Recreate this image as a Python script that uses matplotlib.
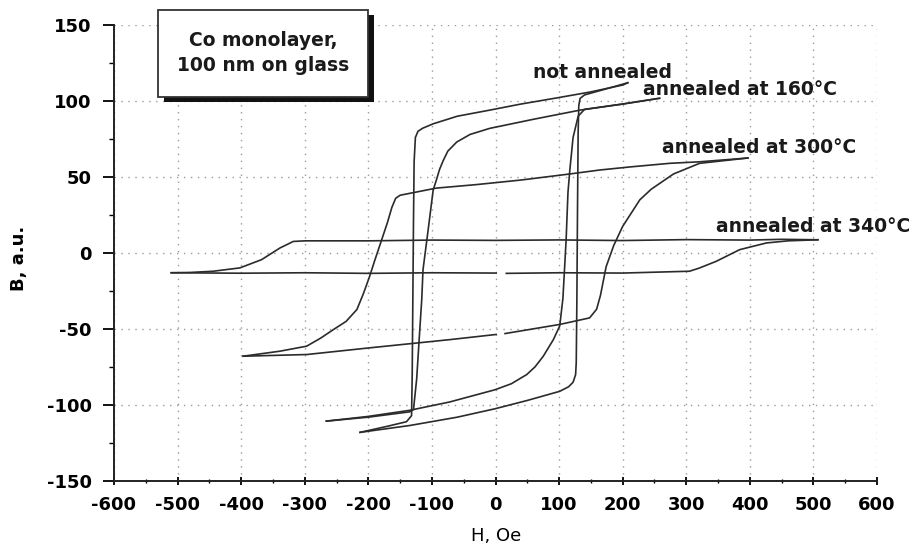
import numpy as np
import matplotlib
matplotlib.use("Agg")
import matplotlib.pyplot as plt
from matplotlib.patches import Rectangle
from matplotlib.ticker import MultipleLocator

nan = np.nan

# not annealed (square loop), field in Oe, B in a.u.
h_na_down = [208, 200, 150, 96, 40, -9, -60, -98, -115, -122, -126, -128, -129, -130, -131, -132, -140, -170, -213]
b_na_down = [112, 110.5, 106, 102, 98, 94, 90, 85, 82, 80, 76, 60, 20, -30, -80, -107, -111, -114, -118]
h_na_up = [-213, -135, -60, -1, 50, 101, 115, 122, 126, 127, 128, 129, 130, 131, 133, 140, 170, 208]
b_na_up = [-118, -113.5, -108, -102.5, -97, -91, -88, -85, -80, -72, -30, 30, 80, 97, 101.7, 104, 107.5, 112]

# annealed at 160 C
h_160_down = [258, 200, 133, 60, -9, -40, -61, -75, -82, -88, -93, -98, -106, -114, -116, -119, -124, -129, -135, -200, -266]
b_160_down = [101.8, 98, 94, 88, 82, 78, 73, 67, 61, 55, 48, 41.5, 15, -11, -30.6, -50, -83, -103, -104.5, -108, -110.6]
h_160_up = [-266, -200, -135, -72, -1, 25, 49, 62, 75, 91, 101, 106, 111, 114, 117, 122, 130, 140, 200, 258]
b_160_up = [-110.6, -107.5, -103.5, -98, -90, -86, -80, -75, -68, -57, -48, -30, 8, 40, 55, 76, 90, 94.5, 98, 101.8]

# annealed at 300 C
h_300_down = [397, 321, 274, 211, 164, 117, 40, -30, -93, -150, -157, -163, -170, -179, -190, -198, -208, -218, -235, -255, -275, -297, -339, -397]
b_300_down = [62.5, 60, 59, 56.6, 54.6, 52, 48, 45, 42.7, 38, 36, 30, 20, 8.7, -5, -15.4, -27, -37.2, -45, -50.4, -56, -61.3, -64.6, -67.9]
h_300_up = [-397, -297, -198, -72, 1, nan, 15, 101, 148, 159, 165, 174, 186, 200, 227, 245, 280, 321, 397]
b_300_up = [-67.9, -66.8, -62.4, -57, -53.6, nan, -53, -47, -42.7, -37, -28, -9, 5, 17.5, 35, 42, 52, 59, 62.5]

# annealed at 340 C
h_340_down = [507, 450, 400, 300, 200, 100, 0, -100, -200, -300, -318, -339, -368, -402, -444, -480, -510]
b_340_down = [8.7, 9, 8.5, 8.8, 8.2, 8.6, 8.3, 8.5, 8, 8, 7.6, 3.3, -4.4, -9.8, -12, -12.8, -13]
h_340_up = [-510, -400, -300, -200, -100, 1, nan, 17, 100, 200, 305, 320, 347, 384, 426, 460, 507]
b_340_up = [-13, -13.3, -13, -13.4, -13, -13.2, nan, -13.4, -13, -13.2, -12, -10, -5.5, 2.2, 6.6, 8, 8.7]

curve_labels = ["not annealed", "annealed at 160\u00b0C", "annealed at 300\u00b0C", "annealed at 340\u00b0C"]
label_h = [59, 232, 262, 347]
label_b = [115, 104, 66, 14]

box_text = "Co monolayer,\n100 nm on glass"

plt.rcParams["font.family"] = ["DejaVu Sans"]
plt.rcParams["font.weight"] = "bold"
plt.rcParams["axes.unicode_minus"] = False

W, H = 924, 547
fig = plt.figure(figsize=(W / 100, H / 100), dpi=100)
ax = fig.add_axes([114 / W, 1 - 481 / H, 763 / W, 456 / H])

line_kw = dict(color="#2b2b2b", lw=1.2)
loops = [
    (h_na_down, b_na_down, h_na_up, b_na_up),
    (h_160_down, b_160_down, h_160_up, b_160_up),
    (h_300_down, b_300_down, h_300_up, b_300_up),
    (h_340_down, b_340_down, h_340_up, b_340_up),
]
for hd, bd, hu, bu in loops:
    ax.plot(hd, bd, **line_kw)
    ax.plot(hu, bu, **line_kw)

for txt, hx, by in zip(curve_labels, label_h, label_b):
    ax.text(hx, by, txt, fontsize=13.5, color="#1a1a1a", ha="left", va="baseline")

ax.set_xlim(-600, 600)
ax.set_ylim(-150, 150)
ax.spines["top"].set_visible(False)
ax.spines["right"].set_visible(False)
for s in ("left", "bottom"):
    ax.spines[s].set_linewidth(1.4)
    ax.spines[s].set_color("#222222")

ax.xaxis.set_major_locator(MultipleLocator(100))
ax.xaxis.set_minor_locator(MultipleLocator(50))
ax.yaxis.set_major_locator(MultipleLocator(50))
ax.yaxis.set_minor_locator(MultipleLocator(25))
ax.tick_params(axis="x", which="major", direction="inout", length=6, width=1.3, pad=8, labelsize=13)
ax.tick_params(axis="x", which="minor", direction="inout", length=3, width=1.0)
ax.tick_params(axis="y", which="major", direction="out", length=8, width=1.3, pad=8, labelsize=13)
ax.tick_params(axis="y", which="minor", direction="out", length=3.5, width=1.0)

ax.grid(True, which="major", linestyle=(0, (1, 4)), color="#9a9a9a", lw=1.0)

ax.set_xlabel("H, Oe", fontsize=13, fontweight="normal")
ax.set_ylabel("B, a.u.", fontsize=13, fontweight="bold")
ax.xaxis.set_label_coords(0.5007, -0.100)
ax.yaxis.set_label_coords(-0.113, 0.489)

# text box with drop shadow, figure pixel coords
bx0, by0, bx1, by1 = 158, 10, 368, 97
shadow = Rectangle((bx0 + 6, H - by1 - 5), bx1 - bx0, by1 - by0,
                   transform=None, facecolor="#111111", edgecolor="none", zorder=5)
frame = Rectangle((bx0, H - by1), bx1 - bx0, by1 - by0,
                  transform=None, facecolor="white", edgecolor="#333333", lw=1.3, zorder=6)
fig.patches.extend([shadow, frame])
fig.text((bx0 + bx1) / 2 / W, 1 - 53 / H, box_text, ha="center", va="center",
         fontsize=13.5, linespacing=1.35, color="#1a1a1a", zorder=7)

fig.savefig("out.png", dpi=100)
